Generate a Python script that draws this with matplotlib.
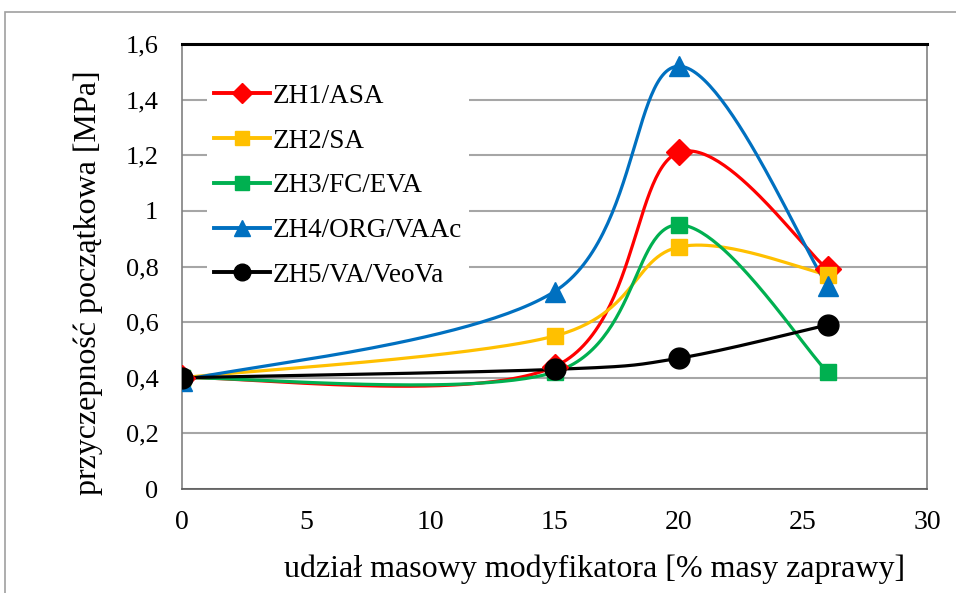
import numpy as np
import matplotlib
matplotlib.use("Agg")
import matplotlib.pyplot as plt
from matplotlib.patches import Rectangle

plt.rcParams['font.family'] = ['Liberation Serif', 'DejaVu Serif']

# udział masowy modyfikatora [%]
x = [0, 15, 20, 26]

zh1 = [0.40, 0.44, 1.21, 0.79]
zh2 = [0.40, 0.55, 0.87, 0.77]
zh3 = [0.40, 0.42, 0.95, 0.42]
zh4 = [0.39, 0.71, 1.52, 0.73]
zh5 = [0.40, 0.43, 0.47, 0.59]

nazwy = ["ZH1/ASA", "ZH2/SA", "ZH3/FC/EVA", "ZH4/ORG/VAAc", "ZH5/VA/VeoVa"]
kolory = ["#FF0000", "#FFC000", "#00B050", "#0070C0", "#000000"]
markery = ["D", "s", "s", "^", "o"]
rozmiary = [13, 12, 12, 15, 15]

y_ticks = [0, 0.2, 0.4, 0.6, 0.8, 1.0, 1.2, 1.4, 1.6]
y_etykiety = ["0", "0,2", "0,4", "0,6", "0,8", "1", "1,2", "1,4", "1,6"]


def wygladz(xs, ys, n=60):
    # krzywa Beziera jak w wygładzonej linii Excela (Catmull-Rom)
    p = np.column_stack([xs, ys]).astype(float)
    p_ext = np.vstack([p[0], p, p[-1]])
    out = []
    t = np.linspace(0, 1, n)[:, None]
    for i in range(len(p) - 1):
        p0, p1, p2, p3 = p_ext[i], p_ext[i + 1], p_ext[i + 2], p_ext[i + 3]
        c1 = p1 + (p2 - p0) / 6
        c2 = p2 - (p3 - p1) / 6
        seg = ((1 - t) ** 3) * p1 + 3 * ((1 - t) ** 2) * t * c1 + 3 * (1 - t) * t ** 2 * c2 + t ** 3 * p2
        out.append(seg if i == 0 else seg[1:])
    out = np.vstack(out)
    return out[:, 0], out[:, 1]


fig = plt.figure(figsize=(9.56, 5.93), dpi=100)
ax = fig.add_axes([182 / 956, 1 - 489 / 593, (927 - 182) / 956, (489 - 44) / 593])

for ys, nazwa, kol, mk, ms in zip([zh1, zh2, zh3, zh4, zh5], nazwy, kolory, markery, rozmiary):
    xs_s, ys_s = wygladz(x, ys)
    ax.plot(xs_s, ys_s, color=kol, lw=2.3, solid_capstyle='round', zorder=3)
    ax.plot(x, ys, linestyle='none', marker=mk, ms=ms, color=kol, zorder=4)
    ax.plot([], [], color=kol, lw=2.8, marker=mk, ms=ms * 0.8, label=nazwa)

ax.set_xlim(0, 30)
ax.set_ylim(0, 1.6)
ax.set_xticks(range(0, 31, 5))
ax.set_yticks(y_ticks)
ax.set_yticklabels(y_etykiety)
ax.tick_params(axis='x', length=0, labelsize=20, pad=15)
ax.tick_params(axis='y', length=0, labelsize=19, pad=17)
ax.yaxis.grid(True, color="#A6A6A6", lw=1.5)
ax.set_axisbelow(True)

ax.spines['top'].set_color('black')
ax.spines['top'].set_linewidth(2.2)
ax.spines['left'].set_color('#808080')
ax.spines['right'].set_color('#808080')
ax.spines['bottom'].set_color('#595959')
for s in ['left', 'right', 'bottom']:
    ax.spines[s].set_linewidth(1.2)

ax.set_xlabel("udział masowy modyfikatora [% masy zaprawy]", fontsize=23)
ax.set_ylabel("przyczepność początkowa [MPa]", fontsize=23)
ax.xaxis.set_label_coords(0.554, -0.148)
ax.yaxis.set_label_coords(-0.106, 0.463)

leg = ax.legend(loc='upper left', bbox_to_anchor=(0.016, 0.956), frameon=True, fancybox=False,
                edgecolor='none', facecolor='white', framealpha=1, fontsize=19.5,
                handlelength=2.05, handletextpad=0.12, labelspacing=0.73, borderpad=0.25)

# ramka wokół całego wykresu
fig.patches.append(Rectangle((5 / 956, -0.01), 1.0, 1 - 12 / 593 + 0.01, transform=fig.transFigure,
                             fill=False, edgecolor='#A0A0A0', lw=1.2))

fig.savefig("out.png", dpi=100)
